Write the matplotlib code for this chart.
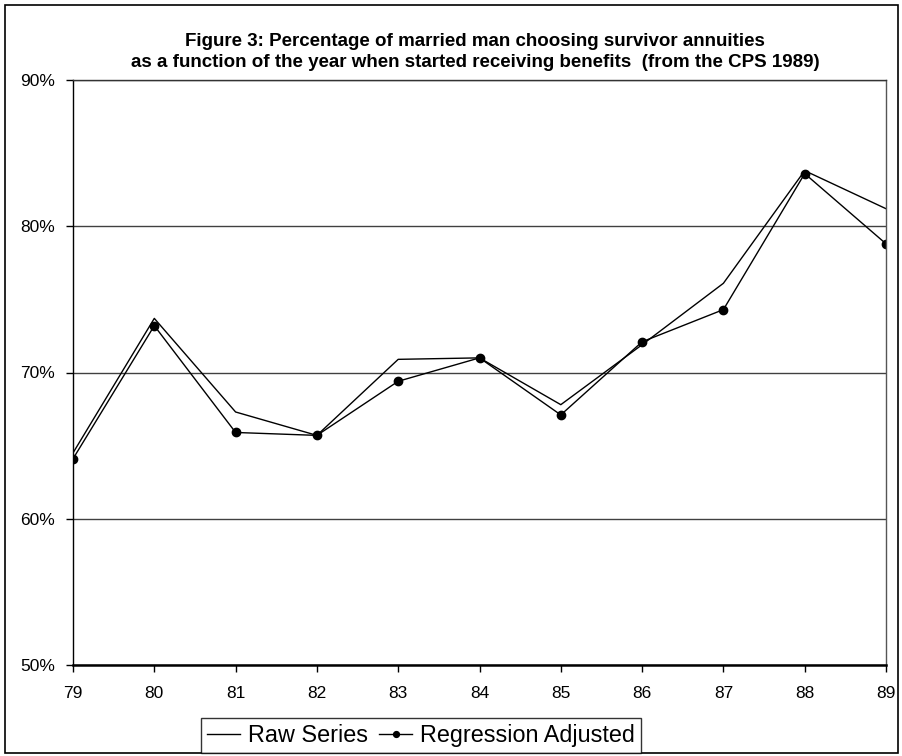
import matplotlib.pyplot as plt
from matplotlib.patches import Rectangle
from matplotlib.ticker import FuncFormatter

plt.rcParams["font.family"] = ["Liberation Sans", "DejaVu Sans"]

# Year when started receiving benefits (two-digit), share choosing survivor annuities (%)
years = [79, 80, 81, 82, 83, 84, 85, 86, 87, 88, 89]
raw_series = [64.5, 73.7, 67.3, 65.7, 70.9, 71.0, 67.8, 71.9, 76.1, 83.8, 81.2]
regression_adjusted = [64.1, 73.2, 65.9, 65.7, 69.4, 71.0, 67.1, 72.1, 74.3, 83.6, 78.8]

title = ("Figure 3: Percentage of married man choosing survivor annuities\n"
         "as a function of the year when started receiving benefits  (from the CPS 1989)")

fig = plt.figure(figsize=(9.03, 7.56), dpi=100)
ax = fig.add_axes([73 / 903, 1 - 665 / 756, (886 - 73) / 903, (665 - 80) / 756])

ax.plot(years, raw_series, color="black", lw=1.0, label="Raw Series")
ax.plot(years, regression_adjusted, color="black", lw=1.0, marker="o",
        markersize=6, label="Regression Adjusted")

ax.set_xlim(79, 89)
ax.set_ylim(50, 90)
ax.set_xticks(years)
ax.set_yticks([50, 60, 70, 80, 90])
ax.yaxis.set_major_formatter(FuncFormatter(lambda v, _: f"{v:.0f}%"))
ax.tick_params(direction="out", length=5, width=1, labelsize=12.5)
ax.tick_params(axis="x", pad=10)
ax.tick_params(axis="y", pad=8)
ax.grid(axis="y", color="black", lw=1.0, alpha=0.75)
ax.set_axisbelow(True)
for side in ["left", "right", "top"]:
    ax.spines[side].set_linewidth(1.0)
ax.spines["right"].set_color("#555555")
ax.spines["top"].set_color("#333333")
ax.spines["bottom"].set_linewidth(1.8)

fig.text(475 / 903, 1 - 52 / 756, title, ha="center", va="center",
         fontsize=13.5, fontweight="bold", linespacing=1.25)

leg = fig.legend(loc="lower center", bbox_to_anchor=(421 / 903, 3 / 756), ncol=2,
                 fontsize=16.8, frameon=True, fancybox=False, edgecolor="black",
                 handlelength=1.4, handletextpad=0.35, columnspacing=0.5,
                 borderpad=0.25, borderaxespad=0, markerscale=0.7)
leg.get_frame().set_linewidth(1.0)

# outer chart border
fig.patches.append(Rectangle((5 / 903, 3 / 756), 893 / 903, 748 / 756,
                             transform=fig.transFigure, fill=False,
                             edgecolor="black", lw=1.2))

fig.savefig("out.png", dpi=100)
